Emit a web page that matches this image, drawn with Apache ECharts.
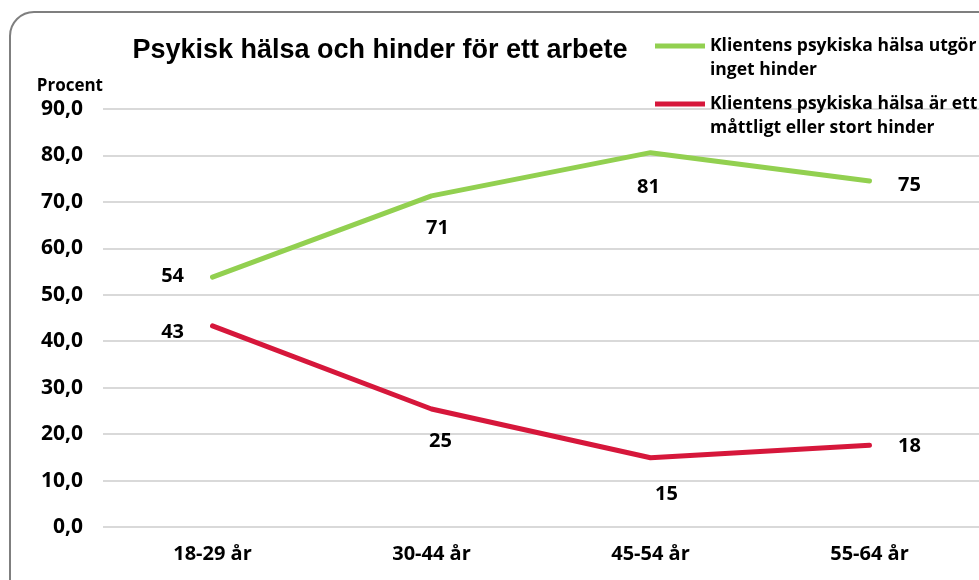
<!DOCTYPE html>
<html>
<head>
<meta charset="utf-8">
<script src="https://cdn.jsdelivr.net/npm/echarts@6/dist/echarts.min.js"></script>
<style>
  html, body { margin: 0; padding: 0; background: #fff; }
  #main { width: 979px; height: 580px; }
</style>
</head>
<body>
<div id="main"></div>
<script>
// kategorier och värden (procent)
var categories = ['18-29 år', '30-44 år', '45-54 år', '55-64 år'];
var ingetHinder = [53.8, 71.3, 80.6, 74.5];
var stortHinder = [43.3, 25.4, 14.9, 17.6];
var yTicks = [0, 10, 20, 30, 40, 50, 60, 70, 80, 90];
var seriesNames = [
    'Klientens psykiska hälsa utgör\ninget hinder',
    'Klientens psykiska hälsa är ett\nmåttligt eller stort hinder'
];

// var etiketterna hamnar: position, avstånd, förskjutning
var greenLabelPos = [['left', 28, [0, -1]], ['bottom', 20, [6, 2]], ['bottom', 20, [-2, 4]], ['right', 28, [0, 4]]];
var redLabelPos = [['left', 28, [0, 6]], ['bottom', 20, [9, 2]], ['bottom', 20, [16, 6]], ['right', 28, [0, 1]]];

var font = 'Open Sans';

function buildData(values, pos) {
    return values.map(function (v, i) {
        return {
            value: v,
            label: { position: pos[i][0], distance: pos[i][1], offset: pos[i][2] }
        };
    });
}

// tom rad först så att linjen hamnar mitt för första textraden
function legendFormatter(name) {
    return '\n' + name;
}

function legendStyle() {
    return {
        fontFamily: font,
        fontSize: 17.5,
        fontWeight: 'bold',
        color: '#000',
        lineHeight: 24
    };
}

var labelStyle = {
    show: true,
    fontFamily: font,
    fontSize: 20,
    fontWeight: 'bold',
    color: '#000',
    formatter: function (p) { return Math.round(p.value); }
};

var myChart = echarts.init(document.getElementById('main'));
var option = {
    backgroundColor: '#fff',
    animation: false,
    title: {
        text: 'Psykisk hälsa och hinder för ett arbete',
        left: 375,
        top: 32,
        textAlign: 'center',
        textStyle: {
            fontFamily: 'Liberation Sans',
            fontSize: 27,
            fontWeight: 'bold',
            color: '#000'
        }
    },
    graphic: [{
        type: 'rect',
        shape: { x: 10, y: 12, width: 1000, height: 600, r: 24 },
        style: { fill: 'none', stroke: '#7f7f7f', lineWidth: 2 },
        z: -1
    }],
    legend: [{
        data: [seriesNames[0]],
        left: 650,
        top: 5,
        itemWidth: 50,
        itemHeight: 5,
        icon: 'rect',
        formatter: legendFormatter,
        textStyle: legendStyle()
    }, {
        data: [seriesNames[1]],
        left: 650,
        top: 63,
        itemWidth: 50,
        itemHeight: 5,
        icon: 'rect',
        formatter: legendFormatter,
        textStyle: legendStyle()
    }],
    grid: {
        left: 103,
        right: -6,
        top: 109,
        bottom: 53
    },
    xAxis: {
        type: 'category',
        data: categories,
        boundaryGap: true,
        axisLine: { show: false },
        axisTick: { show: false },
        axisLabel: {
            margin: 17,
            fontFamily: font,
            fontSize: 20,
            fontWeight: 'bold',
            color: '#000'
        }
    },
    yAxis: {
        type: 'value',
        min: yTicks[0],
        max: yTicks[yTicks.length - 1],
        interval: 10,
        name: 'Procent',
        nameLocation: 'end',
        nameGap: 14,
        nameTextStyle: {
            align: 'right',
            fontFamily: font,
            fontSize: 17,
            fontWeight: 'bold',
            color: '#000'
        },
        axisLine: { show: false },
        axisTick: { show: false },
        axisLabel: {
            margin: 20,
            fontFamily: font,
            fontSize: 21,
            fontWeight: 'bold',
            color: '#000',
            formatter: function (v) {
                return v.toFixed(1).replace('.', ',');
            }
        },
        splitLine: {
            lineStyle: { color: '#d9d9d9', width: 2 }
        }
    },
    series: [{
        name: seriesNames[0],
        type: 'line',
        data: buildData(ingetHinder, greenLabelPos),
        showSymbol: true,
        symbol: 'circle',
        symbolSize: 1,
        lineStyle: { color: '#92d050', width: 5, cap: 'round' },
        itemStyle: { color: '#92d050' },
        label: labelStyle
    }, {
        name: seriesNames[1],
        type: 'line',
        data: buildData(stortHinder, redLabelPos),
        showSymbol: true,
        symbol: 'circle',
        symbolSize: 1,
        lineStyle: { color: '#d6173b', width: 5, cap: 'round' },
        itemStyle: { color: '#d6173b' },
        label: labelStyle
    }]
};
myChart.setOption(option);
</script>
</body>
</html>
